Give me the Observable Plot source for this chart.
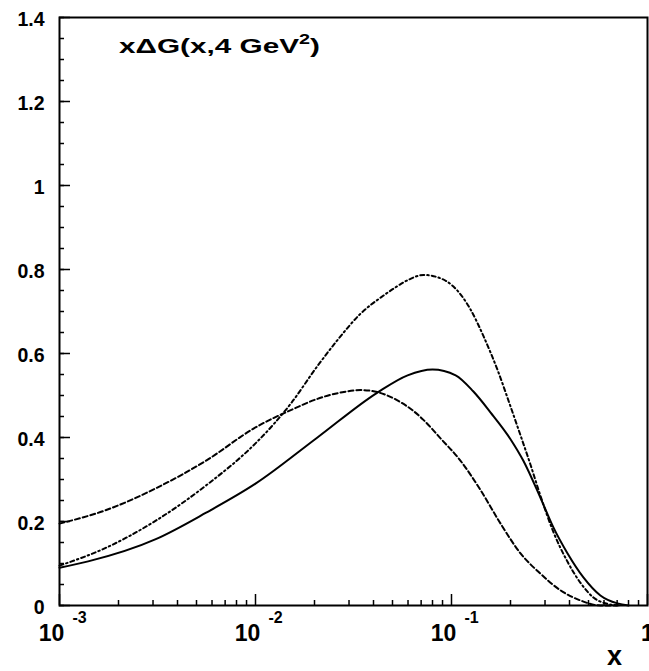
<!DOCTYPE html>
<html><head><meta charset="utf-8">
<script src="https://cdn.jsdelivr.net/npm/d3@7"></script>
<script src="https://cdn.jsdelivr.net/npm/@observablehq/plot@0.6"></script>
<style>body{margin:0;background:#fff;} #chart svg{display:block;}</style>
</head><body><div id="chart"></div>
<script>
// ---- data ----
const solidX = [0.001, 0.0014, 0.0031, 0.0056, 0.01, 0.0207, 0.0419, 0.0597, 0.080, 0.105, 0.129, 0.158, 0.200, 0.233, 0.284, 0.331, 0.391, 0.471, 0.575, 0.703, 0.80];
const solidY = [0.090, 0.105, 0.158, 0.221, 0.290, 0.400, 0.507, 0.548, 0.562, 0.548, 0.510, 0.460, 0.396, 0.344, 0.257, 0.186, 0.124, 0.067, 0.024, 0.005, 0.0];

const dashedX = [0.001, 0.0017, 0.0031, 0.0056, 0.01, 0.0156, 0.0207, 0.0272, 0.0344, 0.0419, 0.055, 0.064, 0.0719, 0.0879, 0.111, 0.141, 0.178, 0.225, 0.284, 0.360, 0.455, 0.575, 0.70];
const dashedY = [0.195, 0.226, 0.279, 0.345, 0.424, 0.468, 0.492, 0.507, 0.513, 0.508, 0.484, 0.463, 0.442, 0.398, 0.345, 0.274, 0.195, 0.124, 0.076, 0.036, 0.012, 0.0, 0.0];

const dashDotX = [0.001, 0.0017, 0.0031, 0.0056, 0.01, 0.0124, 0.0151, 0.0207, 0.0262, 0.0344, 0.045, 0.052, 0.060, 0.072, 0.0879, 0.102, 0.125, 0.146, 0.172, 0.200, 0.225, 0.253, 0.284, 0.331, 0.391, 0.455, 0.530, 0.625, 0.73];
const dashDotY = [0.095, 0.136, 0.202, 0.286, 0.386, 0.432, 0.480, 0.570, 0.632, 0.695, 0.738, 0.758, 0.775, 0.787, 0.779, 0.760, 0.705, 0.640, 0.560, 0.474, 0.405, 0.335, 0.262, 0.175, 0.104, 0.054, 0.019, 0.004, 0.0];

const yTickValues = [0, 0.2, 0.4, 0.6, 0.8, 1.0, 1.2, 1.4];
const yTickLabels = ["0", "0.2", "0.4", "0.6", "0.8", "1", "1.2", "1.4"];
const xTickValues = [0.001, 0.01, 0.1, 1];
const xTickBase = ["10", "10", "10", "1"];
const xTickExp = ["-3", "-2", "-1", ""];
const titleMain = "x\u0394G(x,4 GeV";
const titleSup = "2";
const titleEnd = ")";
const xAxisTitle = "x";

// minor ticks
const yMinor = d3.range(0, 1.4001, 0.05).map(v => +v.toFixed(2));
const xMinor = [];
for (const dec of [0.001, 0.01, 0.1]) for (let k = 2; k <= 9; k++) xMinor.push(dec * k);

const series = [
  ...solidX.map((x, i) => ({x, y: solidY[i], s: "solid"})),
  ...dashedX.map((x, i) => ({x, y: dashedY[i], s: "dashed"})),
  ...dashDotX.map((x, i) => ({x, y: dashDotY[i], s: "dashdot"}))
];

const FONT = "Liberation Sans, Arial, Helvetica, sans-serif";
const W = 649, H = 671, ML = 59, MR = 2, MT = 17, MB = 66;
const FW = W - ML - MR, FH = H - MT - MB;
const labelIdx = xTickValues.map((d, i) => i);
const CURVE = "monotone-x";

const plot = Plot.plot({
  width: W,
  height: H,
  marginLeft: ML,
  marginRight: MR,
  marginTop: MT,
  marginBottom: MB,
  style: {fontFamily: FONT, background: "#fff", overflow: "visible"},
  x: {type: "log", domain: [0.001, 1], axis: null},
  y: {domain: [0, 1.4], axis: null},
  marks: [
    Plot.line(series.filter(d => d.s === "solid"), {x: "x", y: "y", curve: CURVE, stroke: "#000", strokeWidth: 2}),
    Plot.line(series.filter(d => d.s === "dashed"), {x: "x", y: "y", curve: CURVE, stroke: "#000", strokeWidth: 2, strokeDasharray: "5,3"}),
    Plot.line(series.filter(d => d.s === "dashdot"), {x: "x", y: "y", curve: CURVE, stroke: "#000", strokeWidth: 2, strokeDasharray: "4,3,1.5,3"}),
    // y ticks (inward from left axis)
    Plot.ruleY(yTickValues, {y: d => d, insetRight: FW - 11, stroke: "#000", strokeWidth: 1.5}),
    Plot.ruleY(yMinor, {y: d => d, insetRight: FW - 5, stroke: "#000", strokeWidth: 1.5}),
    // x ticks (inward from bottom axis)
    Plot.ruleX(xTickValues, {x: d => d, insetTop: FH - 11, stroke: "#000", strokeWidth: 1.5}),
    Plot.ruleX(xMinor, {x: d => d, insetTop: FH - 5, stroke: "#000", strokeWidth: 1.5}),
    Plot.frame({stroke: "#000", strokeWidth: 2}),
    // y tick labels
    Plot.text(yTickValues, {y: d => d, frameAnchor: "left", text: (d, i) => yTickLabels[i], textAnchor: "end", dx: -15, dy: 2, fontSize: 19.5, fontWeight: "bold", fill: "#000"}),
    // x tick labels: base "10" shifted left, exponent to the right
    Plot.text(labelIdx.filter(i => xTickExp[i] !== ""), {x: i => xTickValues[i], frameAnchor: "bottom", text: i => xTickBase[i], textAnchor: "middle", dx: -8, dy: 35, fontSize: 23, fontWeight: "bold", fill: "#000"}),
    Plot.text(labelIdx.filter(i => xTickExp[i] === ""), {x: i => xTickValues[i], frameAnchor: "bottom", text: i => xTickBase[i], textAnchor: "middle", dx: 0, dy: 35, fontSize: 23, fontWeight: "bold", fill: "#000"}),
    Plot.text(labelIdx.filter(i => xTickExp[i] !== ""), {x: i => xTickValues[i], frameAnchor: "bottom", text: i => xTickExp[i], textAnchor: "start", dx: 13, dy: 17, fontSize: 16, fontWeight: "bold", fill: "#000"}),
    Plot.text([xAxisTitle], {frameAnchor: "bottom-right", text: d => d, textAnchor: "middle", dx: -33, dy: 59, fontSize: 27, fontWeight: "bold", fill: "#000"})
  ]
});

const svg = d3.select(plot);
const t = svg.append("text")
  .attr("x", 119).attr("y", 53)
  .attr("text-anchor", "start")
  .attr("textLength", 201).attr("lengthAdjust", "spacingAndGlyphs")
  .attr("font-family", FONT).attr("font-weight", "bold").attr("font-size", 21).attr("fill", "#000");
t.append("tspan").text(titleMain);
t.append("tspan").attr("dy", -9).attr("font-size", 14).text(titleSup);
t.append("tspan").attr("dy", 9).text(titleEnd);

document.getElementById("chart").appendChild(plot);
</script>
</body></html>
